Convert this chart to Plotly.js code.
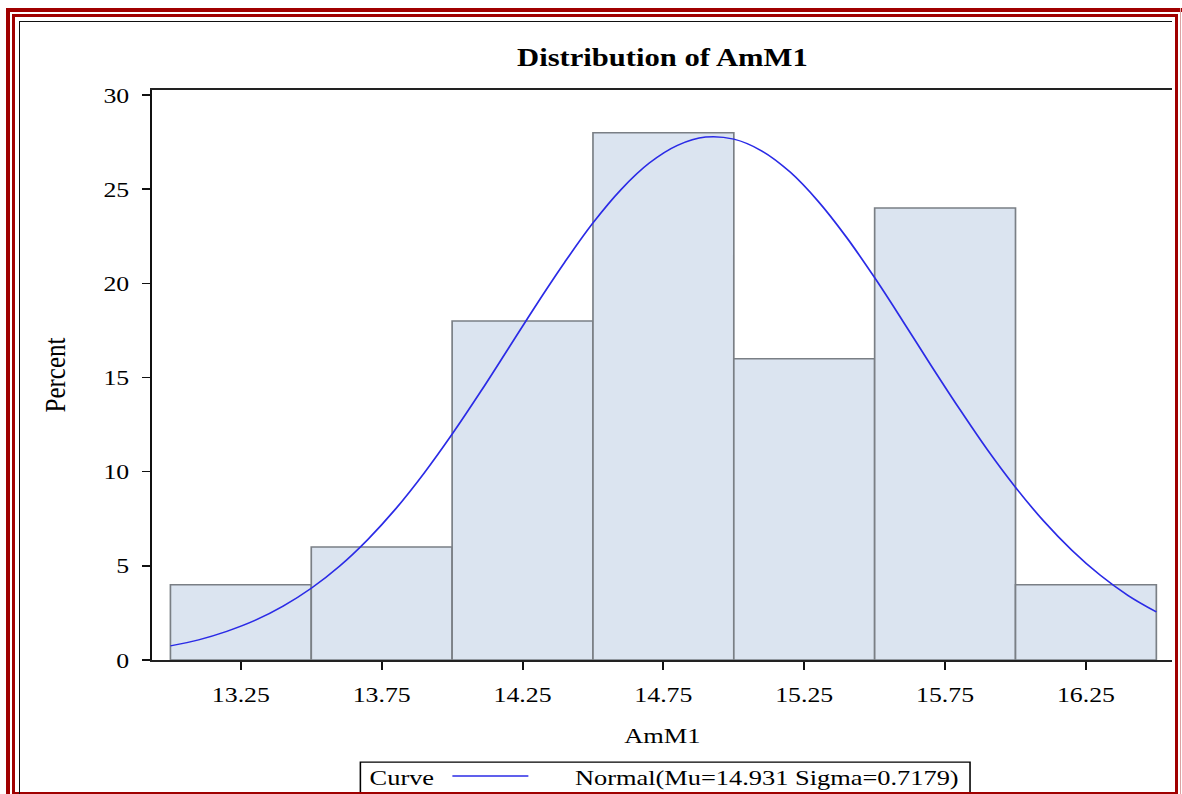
<!DOCTYPE html>
<html>
<head>
<meta charset="utf-8">
<script src="https://cdn.plot.ly/plotly-3.0.1.min.js"></script>
<style>
  html, body { margin: 0; padding: 0; background: #ffffff; }
  body { width: 1182px; height: 794px; overflow: hidden; position: relative; }
  #plot { position: absolute; left: 0; top: 0; width: 985px; height: 794px;
          transform: scaleX(1.2); transform-origin: 0 0; }
  .frame { position: absolute; box-sizing: border-box; pointer-events: none; z-index: 5; }
  #outer { left: 6px; top: 8px; width: 1200px; height: 820px;
           border-left: 4px solid #a00000; border-top: 4px solid #a00000; }
  #outerEdge { left: 1180px; top: 8px; width: 1px; height: 800px; background: #d9a3a3; }
  #inner { left: 12px; top: 14px; width: 1166px; height: 781px; border: 3px solid #a00000; }
  #blackline { left: 19px; top: 21px; width: 1153px; height: 780px;
               border-left: 1.5px solid #111; border-top: 1.5px solid #111; }
</style>
</head>
<body>
<div id="plot"></div>
<div class="frame" id="outer"></div>
<div class="frame" id="outerEdge"></div>
<div class="frame" id="inner"></div>
<div class="frame" id="blackline"></div>
<script>
// ---- data ----
const binCenters = [13.25, 13.75, 14.25, 14.75, 15.25, 15.75, 16.25];
const binPercent = [4, 6, 18, 28, 16, 24, 4];
const xTickVals = [13.25, 13.75, 14.25, 14.75, 15.25, 15.75, 16.25];
const xTickText = ["13.25", "13.75", "14.25", "14.75", "15.25", "15.75", "16.25"];
const yTickVals = [0, 5, 10, 15, 20, 25, 30];
const curveX = [13.0, 13.1, 13.2, 13.3, 13.4, 13.5, 13.6, 13.7, 13.8, 13.9,
                14.0, 14.1, 14.2, 14.3, 14.4, 14.5, 14.6, 14.7, 14.8, 14.9,
                15.0, 15.1, 15.2, 15.3, 15.4, 15.5, 15.6, 15.7, 15.8, 15.9,
                16.0, 16.1, 16.2, 16.3, 16.4, 16.5];
const curveY = [0.75, 1.07, 1.52, 2.10, 2.86, 3.81, 4.98, 6.39, 8.03, 9.91,
                11.99, 14.22, 16.55, 18.89, 21.13, 23.21, 24.99, 26.39, 27.33, 27.77,
                27.66, 27.03, 25.91, 24.35, 22.45, 20.30, 18.00, 15.65, 13.36, 11.17,
                9.17, 7.38, 5.83, 4.51, 3.42, 2.55];
const chartTitle = "Distribution of AmM1";
const xLabel = "AmM1";
const yLabel = "Percent";
const legendHeader = "Curve";
const curveName = "Normal(Mu=14.931 Sigma=0.7179)";

const serif = "Liberation Serif, Times New Roman, serif";
const curveColor = "#2b2be6";

const traces = [
  {
    type: "bar", x: binCenters, y: binPercent, width: 0.5,
    marker: { color: "#dbe4f0", line: { color: "#7a7f85", width: 1.4 } },
    hoverinfo: "skip", showlegend: false
  },
  {
    type: "scatter", mode: "lines", x: curveX, y: curveY, name: curveName,
    line: { color: curveColor, width: 1.5, shape: "spline" },
    hoverinfo: "skip", showlegend: false
  }
];

// legend geometry in paper coordinates
const L = { x0: 0.2039, x1: 0.8016, y0: -0.179, y1: -0.25 };
const layout = {
  width: 985, height: 794,
  margin: { l: 126.7, r: 8.3, t: 90, b: 134 },
  paper_bgcolor: "rgba(0,0,0,0)", plot_bgcolor: "#ffffff",
  bargap: 0,
  title: {
    text: "<b>" + chartTitle + "</b>",
    font: { family: serif, size: 25.5, color: "#000" },
    x: 0.5, xref: "paper", xanchor: "center",
    y: 1 - 57 / 794, yref: "container", yanchor: "middle"
  },
  xaxis: {
    range: [12.936, 16.557], tickvals: xTickVals, ticktext: xTickText,
    ticks: "outside", ticklen: 8, tickwidth: 1.6, tickcolor: "#111",
    showline: true, linecolor: "#222", linewidth: 2, mirror: true,
    showgrid: false, zeroline: false,
    tickfont: { family: serif, size: 21.5, color: "#000" },
    ticklabelstandoff: 6,
    title: { text: xLabel, font: { family: serif, size: 22, color: "#000" }, standoff: 22 }
  },
  yaxis: {
    range: [0, 30.27], tickvals: yTickVals,
    ticks: "outside", ticklen: 7, tickwidth: 1.6, tickcolor: "#111",
    showline: true, linecolor: "#111", linewidth: 2, mirror: false,
    showgrid: false, zeroline: false,
    tickfont: { family: serif, size: 21.5, color: "#000" },
    ticklabelstandoff: 6,
    title: { text: yLabel, font: { family: serif, size: 25, color: "#000" }, standoff: 24 }
  },
  shapes: [
    { type: "rect", xref: "paper", yref: "paper", x0: L.x0, x1: L.x1, y0: L.y0, y1: L.y1,
      line: { color: "#000", width: 1.3 }, fillcolor: "rgba(0,0,0,0)", layer: "above" },
    { type: "line", xref: "paper", yref: "paper", x0: 0.2941, x1: 0.3686, y0: -0.2035, y1: -0.2035,
      line: { color: curveColor, width: 1.5 } }
  ],
  annotations: [
    { text: legendHeader, xref: "paper", yref: "paper", x: 0.2110, y: -0.207,
      xanchor: "left", yanchor: "middle", showarrow: false,
      font: { family: serif, size: 22, color: "#000" } },
    { text: curveName, xref: "paper", yref: "paper", x: 0.4115, y: -0.207,
      xanchor: "left", yanchor: "middle", showarrow: false,
      font: { family: serif, size: 22, color: "#000" } }
  ]
};

Plotly.newPlot("plot", traces, layout, { staticPlot: true, displayModeBar: false });
</script>
</body>
</html>
